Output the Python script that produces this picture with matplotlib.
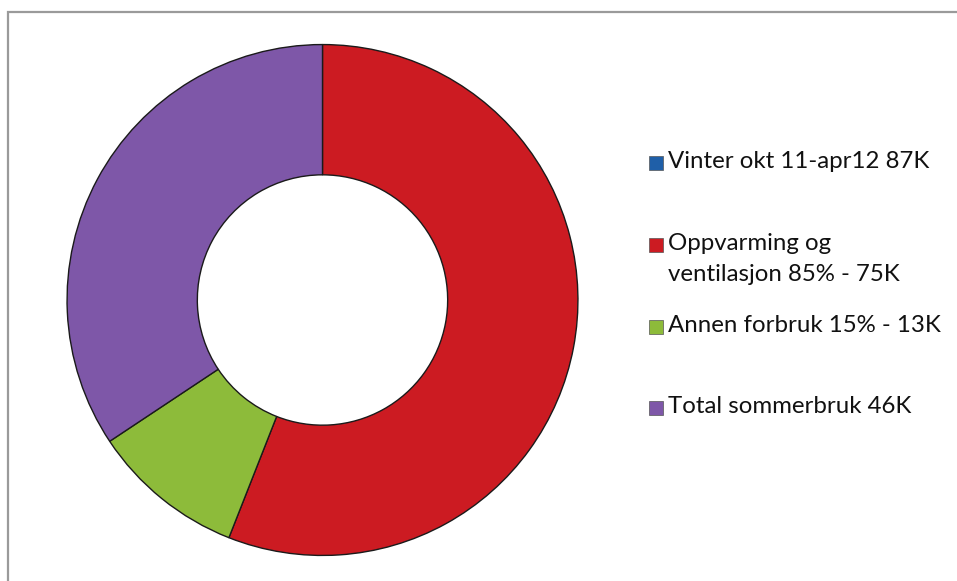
import matplotlib.pyplot as plt
from matplotlib.patches import Rectangle

# Energy use, thousands of kWh
labels = ["Vinter okt 11-apr12 87K",
          "Oppvarming og\nventilasjon 85% - 75K",
          "Annen forbruk 15% - 13K",
          "Total sommerbruk 46K"]
values = [0, 75, 13, 46]   # winter total is shown in the legend only
colors = ["#1F5FA8", "#CC1B22", "#8DBB3A", "#7E57A8"]

W, H = 957, 581
fig = plt.figure(figsize=(W / 100, H / 100), dpi=100)
fig.patch.set_facecolor("white")

# chart frame (top and left edges visible)
fig.patches.append(Rectangle((8 / W, -0.1), 1.2, 1.1 - 12 / H,
                             transform=fig.transFigure, fill=False,
                             edgecolor="#9a9a9a", linewidth=1.6))

R = 258
cx, cy = 322.5, H - 300
ax = fig.add_axes([(cx - R) / W, (cy - R) / H, 2 * R / W, 2 * R / H])
ax.pie(values, colors=colors, startangle=90, counterclock=False, radius=1,
       wedgeprops=dict(width=0.51, edgecolor="#1a1a1a", linewidth=1.0))
ax.set_xlim(-1.01, 1.01)
ax.set_ylim(-1.01, 1.01)
ax.set_aspect("equal")
ax.axis("off")

# legend drawn by hand
rows_y = [163, 245, 327, 408]
for lab, col, y in zip(labels, colors, rows_y):
    fig.patches.append(Rectangle((649 / W, (H - y - 7) / H), 14 / W, 14 / H,
                                 transform=fig.transFigure, facecolor=col,
                                 edgecolor="#555555", linewidth=0.5))
    fig.text(668 / W, (H - y + 12) / H, lab, fontsize=17.3, family="Lato",
             va="top", ha="left", color="#111111", linespacing=1.6)

fig.savefig("out.png", dpi=100)
